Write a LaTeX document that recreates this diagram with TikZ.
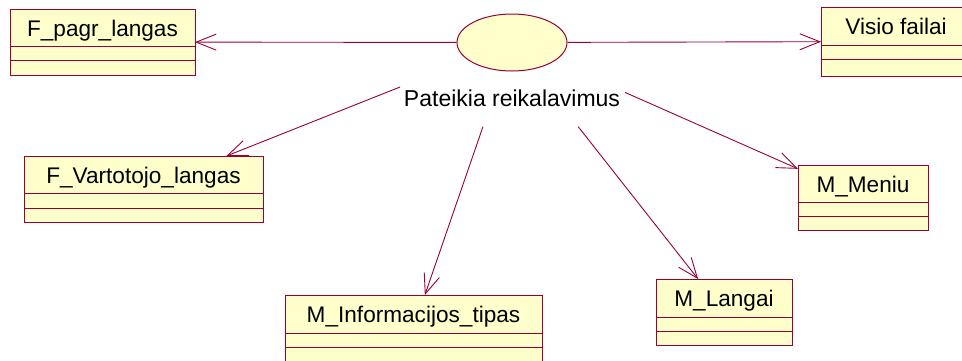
\documentclass[tikz,border=0pt]{standalone}
\usepackage{fontspec}
\setmainfont{Liberation Sans}
\usetikzlibrary{shapes.geometric,arrows.meta,calc,fit}

\definecolor{umlline}{RGB}{153,0,51}
\definecolor{umlfill}{RGB}{255,255,204}

% class box: #1 node name, #2 class name, #3 left, #4 top, #5 right, #6 bottom,
% #7 first divider, #8 second divider
\newcommand{\umlclassbox}[8]{%
  \node[clsbox, fit={(#3,#4) (#5,#6)}] (#1) {};
  \draw[clsline] (#3,#7) -- (#5,#7);
  \draw[clsline] (#3,#8) -- (#5,#8);
  \node[clsname] at ({(#3+#5)/2},{#4+27}) {#2};
}

\begin{document}
\begin{tikzpicture}[x=1pt,y=-1pt,
  clsbox/.style={draw=umlline, fill=umlfill, line width=1pt, inner sep=0pt, outer sep=0pt},
  clsline/.style={draw=umlline, line width=1pt},
  clsname/.style={anchor=base, inner sep=0pt, font=\fontsize{22.6}{27}\selectfont},
  usecase/.style={ellipse, draw=umlline, fill=umlfill, line width=1pt,
    minimum width=110pt, minimum height=57pt, inner sep=0pt},
  ucname/.style={anchor=base, inner sep=0pt, font=\fontsize{23}{27}\selectfont},
  assoc/.style={draw=umlline, line width=0.9pt,
    -{Straight Barb[length=20pt,width=16pt,line width=0.9pt]}}
]
\clip (0,0) rectangle (962,360);
\useasboundingbox (0,0) rectangle (962,360);

% use case and its name
\node[usecase] (uc) at (512,42.5) {};
\node[ucname] (ucl) at (512,106) {Pateikia reikalavimus};

% classes
\umlclassbox{pagr}{F\_pagr\_langas}{10}{9}{195}{75}{46}{60}
\umlclassbox{visio}{Visio failai}{821}{7}{971}{76}{45}{59}
\umlclassbox{vart}{F\_Vartotojo\_langas}{24}{156}{263}{222}{193}{208}
\umlclassbox{info}{M\_Informacijos\_tipas}{285}{295}{542}{361}{333}{347}
\umlclassbox{meniu}{M\_Meniu}{798}{165}{928}{230}{202}{216}
\umlclassbox{langai}{M\_Langai}{656}{279}{792}{345}{317}{331}

% associations leave the use case; lower ones start below its name
\draw[assoc] (uc) -- (pagr);
\draw[assoc] (uc) -- (visio);
\coordinate (s1) at ($(uc.center)!0.304!(vart.center)$);
\coordinate (s2) at ($(uc.center)!0.295!(info.center)$);
\coordinate (s3) at ($(uc.center)!0.312!(langai.center)$);
\coordinate (s4) at ($(uc.center)!0.322!(meniu.center)$);
\draw[assoc] (s1) -- (vart);
\draw[assoc] (s2) -- (info);
\draw[assoc] (s3) -- (langai);
\draw[assoc] (s4) -- (meniu);
\end{tikzpicture}
\end{document}
